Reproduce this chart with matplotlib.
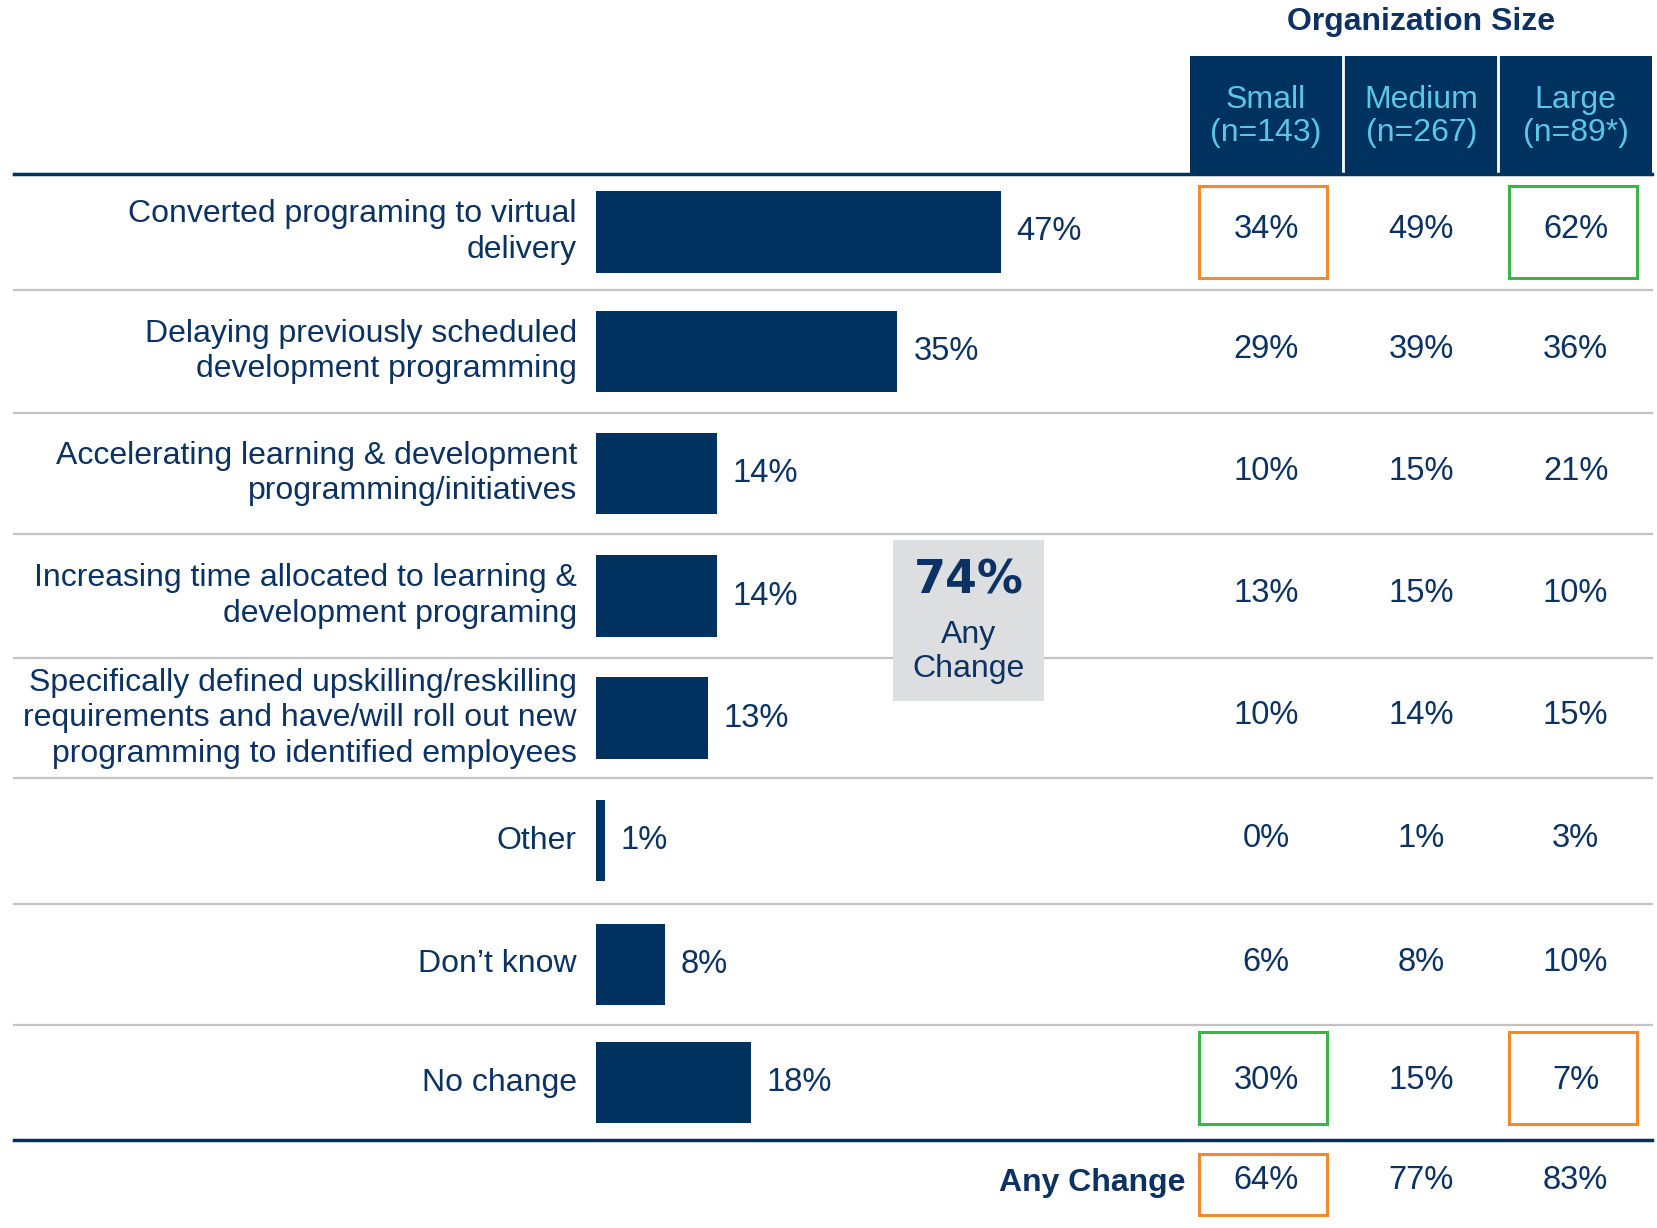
import matplotlib
matplotlib.use("Agg")
import matplotlib.pyplot as plt
from matplotlib.patches import Rectangle

plt.rcParams['font.family'] = ['Liberation Sans', 'DejaVu Sans']

# ---- data ----
categories = [
    "Converted programing to virtual\ndelivery",
    "Delaying previously scheduled\ndevelopment programming",
    "Accelerating learning & development\nprogramming/initiatives",
    "Increasing time allocated to learning &\ndevelopment programing",
    "Specifically defined upskilling/reskilling\nrequirements and have/will roll out new\nprogramming to identified employees",
    "Other",
    "Don\u2019t know",
    "No change",
]
overall = [47, 35, 14, 14, 13, 1, 8, 18]
small = [34, 29, 10, 13, 10, 0, 6, 30]
medium = [49, 39, 15, 15, 14, 1, 8, 15]
large = [62, 36, 21, 10, 15, 3, 10, 7]
size_headers = ["Small\n(n=143)", "Medium\n(n=267)", "Large\n(n=89*)"]
any_change_by_size = [64, 77, 83]
any_change_total = 74
# highlight cells: (row index, column index, kind) ; row 8 = Any Change row
highlights = [(0, 0, "low"), (0, 2, "high"), (7, 0, "high"), (7, 2, "low"), (8, 0, "low")]

# ---- styling ----
NAVY = "#00325F"
TEXT = "#0B3263"
LIGHTBLUE = "#5CC6E6"
GRAY_LINE = "#C3C3C3"
ORANGE = "#F38A2C"
GREEN = "#3BB54A"
BOX_GRAY = "#DDDEE0"

W, H = 1568, 1162  # layout coordinate space
fig = plt.figure(figsize=(16.57, 12.28), dpi=100)
ax = fig.add_axes([0, 0, 1, 1])
ax.set_xlim(0, W)
ax.set_ylim(H, 0)
ax.axis("off")

row_bounds = [165, 274, 391, 505, 623, 736, 855, 970, 1079]
row_centers = [(row_bounds[i] + row_bounds[i + 1]) / 2 for i in range(len(categories))]
any_row_y = 1119
col_centers = [1198, 1345, 1491]
bar_left = 564
px_per_pct = 8.15
label_right = 546
FS = 23
VFS = 23.5

# header
ax.text(1345, 21, "Organization Size", ha="center", va="center", fontsize=23,
        fontweight="bold", color=TEXT)
ax.add_patch(Rectangle((1126, 53), 1563 - 1126, 165 - 53, facecolor=NAVY, edgecolor="none", zorder=2))
for xv in [1271, 1418]:
    ax.plot([xv, xv], [53, 165], color="white", lw=2, zorder=3)
for cx, hdr in zip(col_centers, size_headers):
    ax.text(cx, 110, hdr, ha="center", va="center", fontsize=FS, color=LIGHTBLUE,
            linespacing=1.13, zorder=4)

# lines
for yb in row_bounds[1:-1]:
    ax.plot([13, 1563], [yb, yb], color=GRAY_LINE, lw=1.6, zorder=1)
ax.plot([13, 1563], [165, 165], color=NAVY, lw=2.5, zorder=3)
ax.plot([13, 1563], [1079, 1079], color=NAVY, lw=2.5, zorder=3)

# bars
widths = [v * px_per_pct for v in overall]
ax.barh(row_centers, widths, left=bar_left, height=77, color=NAVY, zorder=2)
for yc, v, w in zip(row_centers, overall, widths):
    ax.text(bar_left + w + 15, yc, f"{v}%", ha="left", va="center", fontsize=VFS, color=TEXT)

# category labels
for yc, cat in zip(row_centers, categories):
    ax.text(label_right, yc, cat, ha="right", va="center", fontsize=FS, color=TEXT,
            linespacing=1.24)

# table values
for i, yc in enumerate(row_centers):
    for j, series in enumerate([small, medium, large]):
        ax.text(col_centers[j], yc - 2, f"{series[i]}%", ha="center", va="center",
                fontsize=VFS, color=TEXT, zorder=4)

# any change row
ax.text(1122, any_row_y, "Any Change", ha="right", va="center", fontsize=23,
        fontweight="bold", color=TEXT)
for cx, v in zip(col_centers, any_change_by_size):
    ax.text(cx, any_row_y - 2, f"{v}%", ha="center", va="center", fontsize=VFS, color=TEXT)

# highlight boxes
for r, c, kind in highlights:
    color = ORANGE if kind == "low" else GREEN
    cx = col_centers[c] - 2.5
    if r < len(categories):
        yc = row_centers[r] - (4 if r == 7 else 0)
        h = 87
    else:
        yc = any_row_y + 2
        h = 58
    ax.add_patch(Rectangle((cx - 60.5, yc - h / 2), 121, h, facecolor="none",
                           edgecolor=color, lw=2.2, zorder=5))

# 74% any change box
ax.add_patch(Rectangle((845, 511), 143, 152, facecolor=BOX_GRAY, edgecolor="none", zorder=4))
ax.text(916.5, 550, f"{any_change_total}%", ha="center", va="center", fontsize=33,
        fontweight="bold", color=TEXT, family=['DejaVu Sans'], zorder=5)
ax.text(916.5, 617, "Any\nChange", ha="center", va="center", fontsize=FS, color=TEXT,
        linespacing=1.2, zorder=5)

fig.savefig("out.png", dpi=100)
